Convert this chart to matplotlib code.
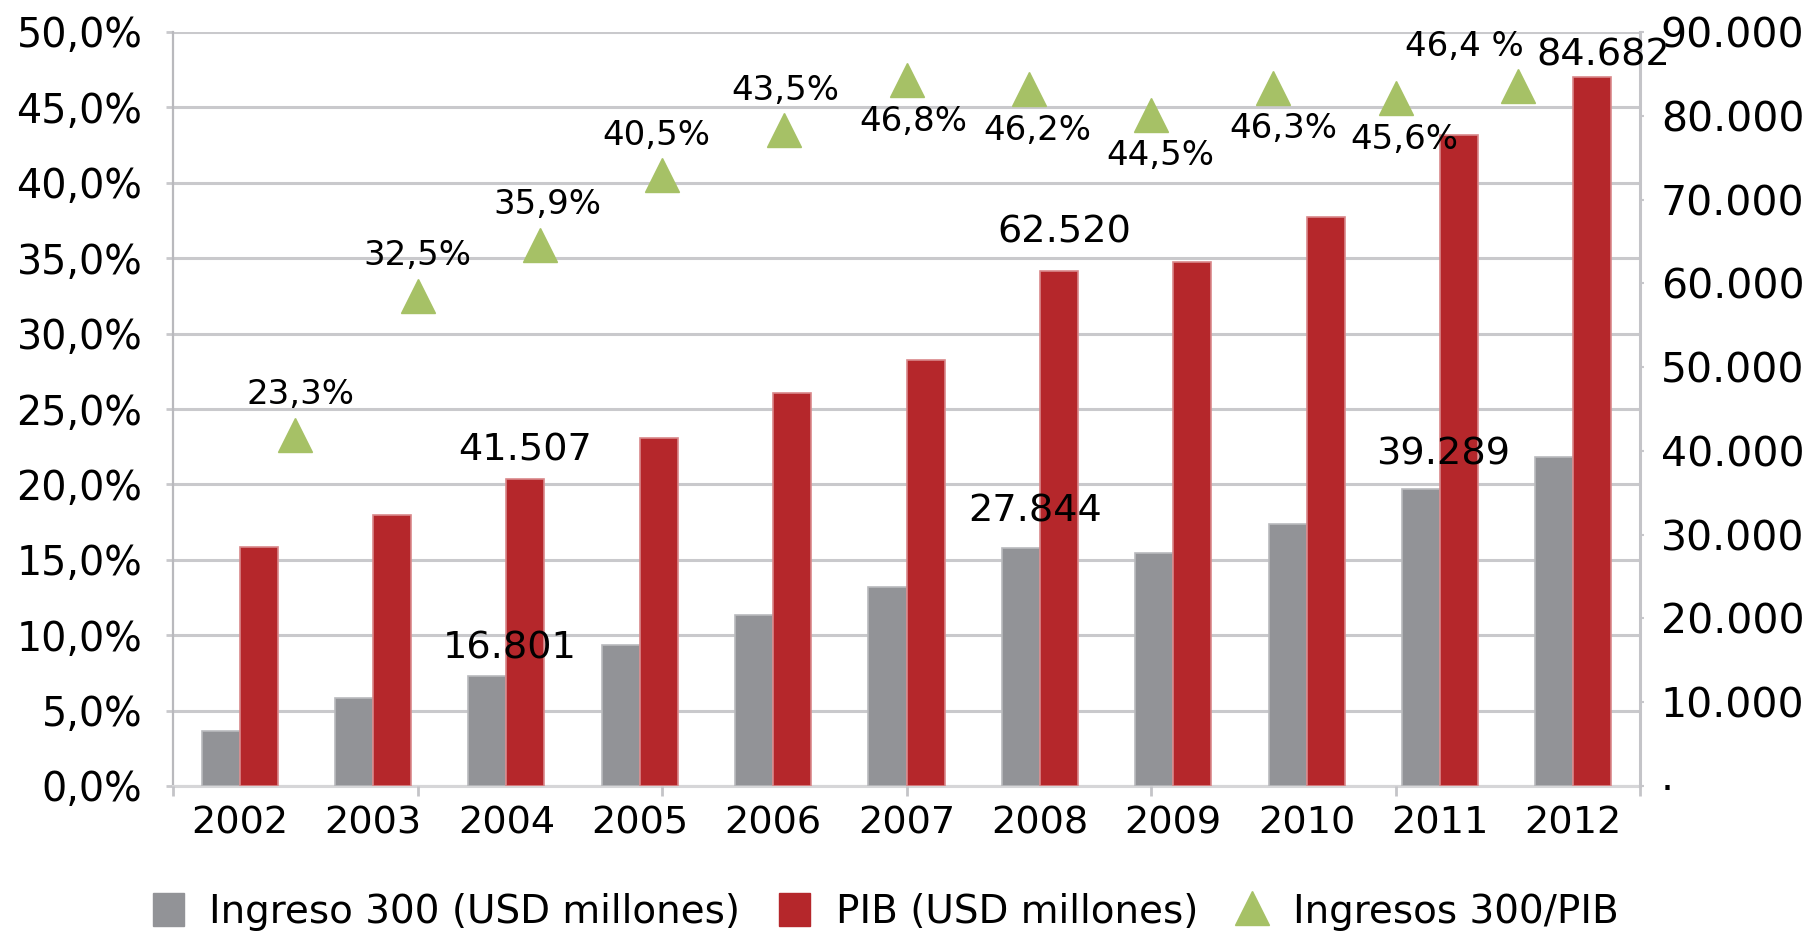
import matplotlib
matplotlib.use("Agg")
import matplotlib.pyplot as plt
from matplotlib.patches import Patch
from matplotlib.lines import Line2D

years = [2002, 2003, 2004, 2005, 2006, 2007, 2008, 2009, 2010, 2011, 2012]
ingreso = [6600, 10550, 13150, 16801, 20450, 23750, 28400, 27844, 31300, 35400, 39289]
pib = [28500, 32400, 36600, 41507, 46950, 50900, 61500, 62520, 67900, 77700, 84682]
ratio = [23.3, 32.5, 35.9, 40.5, 43.5, 46.8, 46.2, 44.5, 46.3, 45.6, 46.4]
ratio_text = ["23,3%", "32,5%", "35,9%", "40,5%", "43,5%", "46,8%", "46,2%",
              "44,5%", "46,3%", "45,6%", "46,4 %"]

# value labels: (series, year whose value is shown, bar the label sits over)
lab_series = ["ingreso", "pib", "ingreso", "pib", "ingreso", "pib"]
lab_value_year = [2005, 2005, 2009, 2009, 2012, 2012]
lab_anchor_year = [2004, 2004, 2008, 2008, 2011, 2012]

GRAY = "#929397"
RED = "#b5272b"
GREEN = "#a6c166"
GRID = "#c9c9cc"

px = 0.72  # points per pixel at dpi 100

fig = plt.figure(figsize=(18.04, 9.35), dpi=100)
ax = fig.add_axes([173 / 1804, 1 - 786 / 935, (1640 - 173) / 1804, (786 - 32) / 935])

n = len(years)
x = list(range(n))
w = 0.285

# left axis (percent) with grid
ax.set_ylim(0, 50)
ax.set_xlim(-0.5, n - 0.5)
ax.set_yticks([i * 5 for i in range(11)])
ax.set_yticklabels([("%.1f%%" % (i * 5)).replace(".", ",") for i in range(11)], fontsize=28.5)
ax.grid(axis="y", color=GRID, lw=2.2)
ax.set_axisbelow(True)
ax.set_xticks(x)
ax.set_xticklabels([str(y) for y in years], fontsize=27.5)
ax.tick_params(axis="x", length=0, pad=14)
ax.tick_params(axis="y", length=5, width=2, color=GRID, pad=17)
for s in ["top", "right"]:
    ax.spines[s].set_visible(False)
ax.spines["left"].set_color("#b9b9bd")
ax.spines["left"].set_linewidth(1.6)
ax.spines["bottom"].set_color("#d6d6d8")
ax.spines["bottom"].set_linewidth(2.2)

# right axis with bars
ax_r = ax.twinx()
ax_r.set_ylim(0, 90000)
ax_r.set_yticks([i * 10000 for i in range(10)])
ax_r.set_yticklabels(["·"] + ["{:,}".format(i * 10000).replace(",", ".") for i in range(1, 10)], fontsize=29.5)
ax_r.tick_params(axis="y", length=3, width=1.5, color="#c8c8cc", pad=12)
for s in ["top", "left", "bottom"]:
    ax_r.spines[s].set_visible(False)
ax_r.spines["right"].set_color("#c4c4c8")
ax_r.spines["right"].set_linewidth(2.2)

ax_r.bar([i - w / 2 for i in x], ingreso, w, color=GRAY, edgecolor="#b9babd", linewidth=1.2)
ax_r.bar([i + w / 2 for i in x], pib, w, color=RED, edgecolor="#d9888a", linewidth=1.2)

series = {"ingreso": ingreso, "pib": pib}
lab_dx = [22, 0, 14, 5, 22, 11]
lab_dy = [9, 11, 19, 20, 17, 3]
for s, vy, ay, dx, dy in zip(lab_series, lab_value_year, lab_anchor_year, lab_dx, lab_dy):
    vi = years.index(vy)
    ai = years.index(ay)
    xb = ai - w / 2 if s == "ingreso" else ai + w / 2
    txt = "{:,}".format(series[s][vi]).replace(",", ".")
    ax_r.annotate(txt, (xb, series[s][ai]), xytext=(dx * px, dy * px),
                  textcoords="offset points", ha="center", va="bottom",
                  fontsize=27.5, color="black", zorder=5)

# triangles sit on their own category axis (Excel secondary x axis)
ax_t = ax.twiny()
ax_t.set_xlim(0, n + 1)
for s in ax_t.spines.values():
    s.set_visible(False)
ax_t.xaxis.set_ticks_position("bottom")
ax_t.set_xticks(list(range(0, n + 2, 2)))
ax_t.set_xticklabels([])
ax_t.tick_params(axis="x", length=7, width=2, color="#c4c4c8", direction="out")
xt = [i + 1 for i in x]
ax_t.plot(xt, ratio, linestyle="none", marker="^", ms=24, color=GREEN, zorder=4)

pos = ["up", "up", "up", "up", "up", "down", "down", "down", "down", "down", "up"]
tdx = [5, 0, 8, -6, 1, 7, 9, 9, 10, 9, -53]
for xi, v, t, p, dx in zip(xt, ratio, ratio_text, pos, tdx):
    dy = 40 if p == "up" else -41
    ax_t.annotate(t, (xi, v), xytext=(dx * px, dy * px), textcoords="offset points",
                  ha="center", va="center", fontsize=24.5, color="black", zorder=6)

handles = [Patch(color=GRAY), Patch(color=RED),
           Line2D([], [], linestyle="none", marker="^", ms=24, color=GREEN)]
labels = ["Ingreso 300 (USD millones)", "PIB (USD millones)", "Ingresos 300/PIB"]
fig.legend(handles, labels, loc="center", bbox_to_anchor=(886 / 1804, 1 - 912 / 935),
           ncol=3, frameon=False, fontsize=28, handlelength=0.8, handleheight=0.9,
           handletextpad=0.65, columnspacing=1.0, borderpad=0)

fig.savefig("out.png", dpi=100)
